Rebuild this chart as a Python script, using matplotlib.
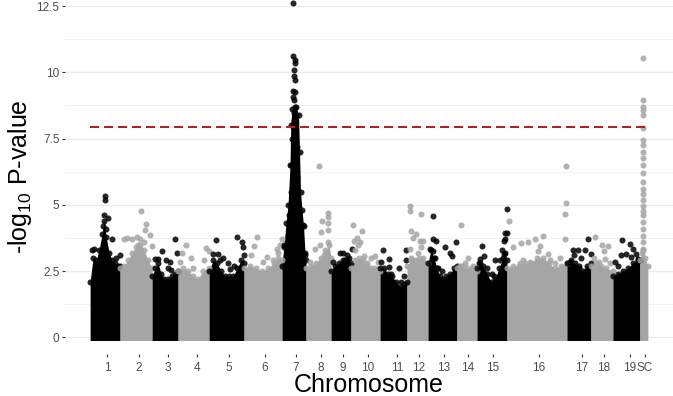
import numpy as np
import matplotlib
matplotlib.use("Agg")
import matplotlib.pyplot as plt

plt.rcParams['font.family'] = ['Liberation Sans', 'DejaVu Sans']
plt.rcParams['mathtext.default'] = 'regular'

# chromosomes, lengths (Mb) and position of the label inside each chromosome
chrom_labels = ['1', '2', '3', '4', '5', '6', '7', '8', '9', '10',
                '11', '12', '13', '14', '15', '16', '17', '18', '19', 'SC']
chrom_len = [30, 32, 26, 31, 35, 38, 24, 25, 20, 29, 27, 21, 29, 20, 30, 60, 24, 22, 27, 8]
tick_offset = [17, 19, 16, 19, 20, 21, 14, 15, 12, 17, 17, 12, 16, 11, 16, 32, 15, 13, 17, 5]

threshold = 7.92

# upper edge of the dense bulk of SNPs per chromosome (position in Mb, -log10 p)
env_pos = [
    [0, 3, 6, 9, 12, 14, 16, 19, 22, 25, 28, 30],
    [0, 4, 8, 12, 16, 20, 24, 28, 32],
    [0, 3, 6, 9, 12, 16, 20, 23, 26],
    [0, 5, 10, 15, 20, 25, 31],
    [0, 4, 8, 12, 16, 20, 24, 28, 32, 35],
    [0, 6, 12, 18, 24, 30, 34, 38],
    [0, 2, 4, 6, 8, 8.7, 10, 14, 16.5, 17.5, 18.5, 20, 21.5, 23, 24],
    [0, 5, 10, 15, 20, 23, 25],
    [0, 4, 8, 12, 16, 20],
    [0, 4, 8, 12, 16, 20, 24, 29],
    [0, 4, 8, 12, 16, 20, 24, 27],
    [0, 4, 8, 12, 16, 21],
    [0, 3, 6, 9, 12, 15, 18, 22, 26, 29],
    [0, 5, 10, 15, 20],
    [0, 3, 6, 10, 14, 18, 22, 26, 28, 30],
    [0, 6, 12, 18, 24, 30, 36, 42, 48, 54, 60],
    [0, 4, 8, 12, 16, 20, 24],
    [0, 5, 10, 15, 22],
    [0, 5, 10, 15, 20, 25, 27],
    [0, 2, 3, 5, 8],
]
env_val = [
    [2.1, 3.0, 2.9, 3.3, 3.9, 4.4, 3.8, 3.2, 2.9, 2.8, 2.6, 2.7],
    [2.6, 2.7, 2.9, 3.2, 3.4, 3.5, 3.3, 2.9, 2.6],
    [2.3, 2.6, 2.8, 2.4, 2.2, 2.2, 2.3, 2.4, 2.5],
    [2.5, 2.6, 2.5, 2.3, 2.2, 2.5, 2.6],
    [2.5, 2.9, 2.8, 2.5, 2.3, 2.3, 2.3, 2.6, 2.9, 2.8],
    [2.6, 2.7, 2.6, 2.5, 2.6, 2.8, 3.0, 2.9],
    [2.7, 3.5, 4.3, 5.0, 6.5, 8.0, 8.6, 8.7, 8.4, 7.0, 5.5, 4.8, 4.2, 3.2, 2.9],
    [2.6, 2.7, 2.8, 3.0, 3.2, 3.5, 3.0],
    [2.5, 2.7, 2.8, 2.9, 2.9, 2.8],
    [2.6, 2.9, 3.0, 2.9, 2.7, 2.6, 2.6, 2.5],
    [2.6, 2.6, 2.4, 2.3, 2.1, 1.9, 2.0, 2.1],
    [2.7, 2.9, 2.9, 3.0, 3.0, 2.8],
    [2.8, 3.3, 3.0, 2.6, 2.3, 2.2, 2.3, 2.4, 2.6, 2.7],
    [2.6, 2.7, 2.6, 2.6, 2.5],
    [2.6, 2.8, 2.7, 2.4, 2.1, 2.2, 2.6, 3.0, 3.2, 2.9],
    [2.6, 2.7, 2.7, 2.8, 2.8, 3.0, 3.0, 2.8, 2.6, 2.7, 2.8],
    [2.8, 2.9, 2.8, 2.6, 2.5, 2.7, 2.8],
    [2.7, 2.8, 2.7, 2.6, 2.5],
    [2.3, 2.4, 2.5, 2.6, 2.8, 2.9, 2.9],
    [2.9, 3.2, 3.3, 3.0, 2.7],
]

# individual SNPs standing out above the bulk (position in Mb, -log10 p)
hits = [
    [(15, 5.35), (14.5, 5.17), (14, 4.6), (17.5, 4.5), (21.5, 3.7), (2, 3.3), (4, 3.35),
     (30.3, 3.1), (26, 3.0), (28, 2.7), (13, 4.2), (16, 4.1)],
    [(20.7, 4.78), (26, 4.29), (25, 4.04), (30, 3.87), (11.7, 3.7), (16.7, 3.78), (4, 3.71),
     (6.7, 3.75), (20, 3.72), (31.8, 3.44), (24, 3.6), (18, 3.5)],
    [(2.7, 2.97), (6.3, 2.97), (9.7, 3.26), (13.7, 2.9), (18, 2.84), (19, 2.55), (23, 3.7),
     (24.7, 3.2), (16.3, 2.6)],
    [(4.4, 3.2), (7.7, 3.47), (12.7, 3.0), (15, 2.6), (28.3, 3.37), (31, 3.27), (25.7, 2.9),
     (2, 2.85)],
    [(6.7, 3.67), (4, 3.14), (9, 3.14), (14, 3.0), (19, 2.8), (20.7, 2.56), (25, 2.7), (28, 3.8),
     (33, 3.6), (34, 3.4), (34.8, 3.1), (11, 2.9)],
    [(13.3, 3.8), (10, 3.46), (6.7, 3.1), (22.7, 3.03), (19.3, 2.84), (29.3, 2.9), (32.7, 3.33),
     (36, 3.5), (34.3, 3.2), (37.5, 3.7)],
    [(11.3, 12.6), (11.3, 10.6), (13.3, 10.37), (12.7, 10.45), (12.3, 10.1), (11.7, 9.88),
     (13, 9.7), (11.3, 9.28), (13, 9.25), (11.3, 9.07), (12.3, 8.96), (13, 8.7), (12, 8.45),
     (11.5, 8.2), (13, 8.0), (9, 6.5), (15, 6.0), (9.5, 7.5), (14.5, 7.2), (8.5, 5.5), (16, 5.0),
     (7, 4.6), (17, 4.3), (21.3, 4.25), (18, 3.5), (20.5, 3.1), (23, 3.1), (2, 3.4)],
    [(13.3, 6.45), (21.7, 4.7), (22.3, 4.55), (16, 4.4), (22.3, 4.3), (22.3, 4.05), (14.7, 3.96),
     (22.3, 3.6), (9, 3.34), (19, 3.3), (14, 3.5), (4, 2.84), (18, 3.1)],
    [(2.3, 2.84), (9, 3.19), (12.3, 3.19), (15.7, 3.1), (14, 2.9), (18, 3.0), (20.5, 3.35)],
    [(2.3, 4.25), (10.7, 4.0), (2.7, 3.65), (6, 3.75), (9.3, 3.6), (7.3, 3.47), (4, 3.3),
     (13, 3.05), (20.3, 3.0), (24, 3.05), (27, 2.85), (16.3, 2.8)],
    [(2.7, 3.31), (0.7, 2.85), (8.7, 2.96), (9.3, 2.65), (18.7, 2.6), (11, 2.4), (21, 2.07),
     (24, 2.3), (26.5, 3.3), (26.3, 2.9)],
    [(2.7, 4.97), (2.7, 4.78), (14.3, 4.66), (4.3, 4.0), (9.3, 3.9), (6, 3.75), (12.7, 3.65),
     (16, 3.65), (2.7, 3.33), (4.3, 3.0), (11, 3.2), (14.3, 3.4)],
    [(5, 4.56), (5, 3.71), (7.7, 3.65), (1.7, 3.33), (5, 3.25), (6.7, 3.0), (16.7, 3.4),
     (21.7, 3.2), (24.3, 3.06), (27.7, 3.6), (10.3, 2.6), (13.7, 2.5)],
    [(3.7, 4.24), (11, 3.0), (7.7, 2.8), (2.7, 2.7), (16, 2.7)],
    [(5, 3.46), (2.7, 2.96), (6.7, 3.05), (1.7, 2.8), (9.7, 2.6), (15, 2.4), (16.7, 2.3),
     (18.3, 2.9), (30, 4.85), (28.3, 3.95), (30.2, 3.95), (26.7, 3.65), (28.3, 3.7), (25, 3.3),
     (26.7, 3.15), (23.3, 2.9)],
    [(2.3, 4.4), (5.7, 3.4), (13.7, 3.55), (21.3, 3.6), (28, 3.7), (36.3, 3.84), (33, 3.46),
     (41.3, 3.14), (13, 2.8), (16.3, 2.9), (23, 2.84), (31.3, 3.26), (43, 2.9), (48, 2.8),
     (53, 3.0), (58, 3.7), (58, 4.66), (59, 5.07), (59, 6.45)],
    [(20.7, 3.7), (5.7, 3.3), (10.7, 3.29), (17.7, 3.29), (7.3, 3.1), (14, 2.98), (3, 2.85),
     (12.3, 2.7), (23.8, 3.15)],
    [(4.3, 3.78), (11, 3.5), (16.7, 3.44), (12.7, 3.26), (3, 3.0), (8, 2.85), (14.3, 2.95),
     (19.3, 2.8)],
    [(9.3, 3.68), (16.7, 3.53), (20, 3.33), (13.3, 3.14), (7.7, 3.09), (1.7, 2.84), (5, 2.7),
     (18.3, 3.03), (23.3, 3.15), (25, 2.95)],
    [(2.7, 10.54), (2.7, 8.96), (2.6, 8.7), (2.8, 8.58), (2.7, 8.4), (2.7, 7.9), (2.6, 7.45),
     (2.7, 7.24), (2.8, 7.01), (2.7, 6.75), (2.7, 6.49), (2.6, 6.2), (2.7, 5.85), (2.8, 5.6),
     (2.7, 5.4), (2.6, 5.2), (2.7, 4.97), (2.8, 4.78), (2.7, 4.6), (2.6, 4.34), (2.7, 4.1),
     (2.8, 3.84), (2.7, 3.6), (2.6, 3.34)],
]

colors = ['#000000', '#A5A5A5']

starts = np.concatenate([[0], np.cumsum(chrom_len)[:-1]])
total = sum(chrom_len)

fig = plt.figure(figsize=(6.73, 3.96), dpi=100)
ax = fig.add_axes([65 / 673, 42 / 396, 1 - 65 / 673, 1 - 42 / 396])

for i in range(len(chrom_labels)):
    col = colors[i % 2]
    x0 = starts[i]
    xs = x0 + np.array(env_pos[i], dtype=float)
    ys = np.array(env_val[i])
    # solid bulk of overlapping points, down to the bottom of the markers at 0
    ax.fill_between(xs, -0.12, ys, color=col, lw=0, zorder=2)
    ax.scatter(xs, ys, s=19, color=col, alpha=0.85, lw=0, zorder=3)
    hp = np.array(hits[i])
    ax.scatter(x0 + hp[:, 0], hp[:, 1], s=19, color=col, alpha=0.85, lw=0, zorder=3)

ax.hlines(threshold, 0, total, colors='#B22222', lw=1.44,
          linestyles=(0, (4.5, 2.5)), zorder=4)

ax.set_xlim(-0.045 * total, 1.045 * total)
ax.set_ylim(-0.63, 12.73)

ax.set_xticks(starts + np.array(tick_offset), chrom_labels)
ax.set_yticks([0, 2.5, 5, 7.5, 10, 12.5], ['0', '2.5', '5', '7.5', '10', '12.5'])
ax.set_yticks([1.25, 3.75, 6.25, 8.75, 11.25], minor=True)
ax.tick_params(axis='both', which='major', length=2.5, width=0.8, color='#333333',
               labelsize=8.5, labelcolor='#4D4D4D')
ax.tick_params(axis='x', pad=3.5)
ax.tick_params(axis='y', pad=1.5)
ax.tick_params(axis='y', which='minor', length=0)

ax.grid(which='major', axis='y', color='#EBEBEB', lw=1.0)
ax.grid(which='minor', axis='y', color='#EBEBEB', lw=0.5)
ax.set_axisbelow(True)
for s in ax.spines.values():
    s.set_visible(False)

ax.set_xlabel('Chromosome', fontsize=18, va='baseline')
ax.xaxis.set_label_coords(0.5, -38 / 354)
ax.set_ylabel('-log$_{10}$ P-value', fontsize=18, labelpad=2)

fig.savefig('out.png', dpi=100)
